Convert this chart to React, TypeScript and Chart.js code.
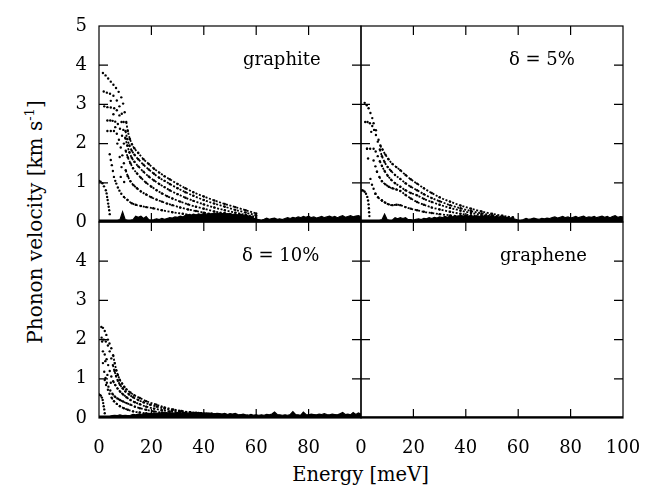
import React, { useEffect, useRef } from 'react';
import { Chart, ChartConfiguration, registerables } from 'chart.js';

Chart.register(...registerables);

type Pt = [number, number];

// ---- data: energy [meV], phonon velocity [km/s] ----

const groundEnergy = [
  0, 1, 2, 3, 4, 5, 6, 7, 8, 9, 10, 11, 12, 13, 14, 15, 16, 17, 18, 19,
  20, 21, 22, 23, 24, 25, 26, 27, 28, 29, 30, 31, 32, 33, 34, 35, 36, 37, 38, 39,
  40, 41, 42, 43, 44, 45, 46, 47, 48, 49, 50, 51, 52, 53, 54, 55, 56, 57, 58, 59,
  60, 61, 62, 63, 64, 65, 66, 67, 68, 69, 70, 71, 72, 73, 74, 75, 76, 77, 78, 79,
  80, 81, 82, 83, 84, 85, 86, 87, 88, 89, 90, 91, 92, 93, 94, 95, 96, 97, 98, 99, 100,
];

// graphite
const graphiteBranch1: Pt[] = [
  [1.5, 3.8], [2.5, 3.74], [3.5, 3.66], [4.5, 3.58], [5.5, 3.5], [6.5, 3.42], [7.5, 3.32], [8.5, 3.18],
  [9.2, 3.02], [9.8, 2.8], [10.4, 2.55], [11, 2.32], [11.8, 2.12], [12.6, 1.98], [13.5, 1.88], [15, 1.76],
  [17, 1.6], [19, 1.48], [21, 1.36], [23, 1.26], [25, 1.17], [27, 1.09], [30, 0.97], [33, 0.86],
  [36, 0.76], [40, 0.65], [44, 0.55], [48, 0.46], [52, 0.38], [56, 0.3], [60, 0.22],
];
const graphiteBranch2: Pt[] = [
  [1.8, 3.33], [3, 3.3], [4.2, 3.27], [5.5, 3.22], [6.8, 3.1], [7.8, 2.95], [8.7, 2.76], [9.4, 2.55],
  [10.1, 2.32], [10.8, 2.12], [11.6, 1.95], [12.5, 1.82], [13.5, 1.72], [15, 1.6], [17, 1.46], [19, 1.34],
  [21, 1.23], [23, 1.13], [25, 1.05], [27, 0.97], [30, 0.86], [33, 0.76], [36, 0.67], [40, 0.56],
  [44, 0.47], [48, 0.39], [52, 0.31], [56, 0.24], [60, 0.17],
];
const graphiteBranch3: Pt[] = [
  [2, 2.95], [3.2, 2.93], [4.5, 2.92], [5.8, 2.9], [6.8, 2.85], [7.8, 2.72], [8.6, 2.55], [9.3, 2.35],
  [10, 2.15], [10.8, 1.95], [11.6, 1.78], [12.5, 1.64], [13.5, 1.54], [15, 1.42], [17, 1.28], [19, 1.16],
  [21, 1.06], [23, 0.97], [25, 0.89], [27, 0.81], [30, 0.71], [33, 0.62], [36, 0.54], [40, 0.45],
  [44, 0.37], [48, 0.3], [52, 0.24], [56, 0.18], [60, 0.13],
];
const graphiteBranch4: Pt[] = [
  [3.2, 2.59], [4.3, 2.59], [5.2, 2.58], [6.2, 2.56], [7.2, 2.5], [8, 2.38], [8.8, 2.2], [9.5, 2.0],
  [10.2, 1.82], [11, 1.65], [12, 1.5], [13, 1.37], [14.5, 1.24], [16, 1.13], [18, 1.0], [20, 0.9],
  [22, 0.81], [24, 0.73], [26, 0.66], [28, 0.6], [31, 0.52], [34, 0.45], [37, 0.39], [40, 0.34],
  [44, 0.27], [48, 0.22], [52, 0.17], [56, 0.13], [60, 0.09],
];
const graphiteBranch5: Pt[] = [
  [3.2, 2.32], [4.5, 2.32], [5.7, 2.32], [6.8, 2.25], [7.6, 2.1], [8.3, 1.9], [8.9, 1.7], [9.5, 1.5],
  [10.2, 1.32], [11, 1.17], [12, 1.04], [13.2, 0.94], [14.5, 0.86], [16, 0.78], [18, 0.7], [20, 0.63],
  [22, 0.57], [24, 0.52], [26, 0.47], [28, 0.43], [31, 0.37], [34, 0.32], [37, 0.28], [40, 0.24],
  [44, 0.19], [48, 0.15], [52, 0.11], [56, 0.08],
];
const graphiteBranch6: Pt[] = [
  [4.1, 1.73], [4.5, 1.58], [4.9, 1.45], [5.3, 1.3], [5.7, 1.15], [6.2, 1.05], [6.6, 0.98], [7.2, 0.88],
  [7.8, 0.8], [8.5, 0.72], [9.5, 0.64], [10.9, 0.56], [12.5, 0.48], [14, 0.44], [16, 0.41], [18, 0.38],
  [20.7, 0.35], [24, 0.3], [28, 0.25], [32, 0.21], [36, 0.17], [40, 0.14], [46, 0.1], [52, 0.07], [58, 0.05],
];
const graphiteSmall: Pt[] = [
  [0, 1.05], [0.6, 1.03], [1.3, 0.99], [1.9, 0.91], [2.6, 0.81], [2.9, 0.73], [3.1, 0.64], [3.3, 0.56],
  [3.5, 0.47], [3.7, 0.39], [3.9, 0.3], [4.1, 0.2],
];
const graphiteLoose: Pt[] = [
  [4.5, 3.09], [5.5, 2.75], [6.2, 2.42], [7, 2.0], [7.9, 1.66], [8.6, 1.4], [8.3, 1.15], [9.6, 1.02],
];
const graphiteGround = [
  0.05, 0.05, 0.05, 0.05, 0.05, 0.05, 0.05, 0.05, 0.06, 0.26,
  0.06, 0.05, 0.05, 0.06, 0.15, 0.12, 0.15, 0.09, 0.14, 0.06,
  0.05, 0.06, 0.08, 0.06, 0.09, 0.07, 0.09, 0.11, 0.1, 0.13,
  0.12, 0.15, 0.13, 0.17, 0.19, 0.17, 0.2, 0.18, 0.21, 0.19,
  0.22, 0.2, 0.22, 0.2, 0.23, 0.21, 0.23, 0.21, 0.24, 0.2,
  0.22, 0.19, 0.21, 0.18, 0.2, 0.17, 0.18, 0.15, 0.15, 0.1,
  0.07, 0.06, 0.05, 0.07, 0.1, 0.07, 0.09, 0.1, 0.07, 0.08,
  0.06, 0.09, 0.11, 0.09, 0.12, 0.1, 0.13, 0.11, 0.14, 0.12,
  0.15, 0.11, 0.13, 0.1, 0.12, 0.14, 0.11, 0.13, 0.15, 0.12,
  0.14, 0.11, 0.14, 0.16, 0.12, 0.14, 0.16, 0.13, 0.15, 0.16,
  0.14,
];

// delta = 5%
const delta5Branch1: Pt[] = [
  [1.4, 3.04], [2.2, 2.98], [2.9, 2.9], [3.6, 2.78], [4.3, 2.65], [4.8, 2.52], [5.7, 2.34], [6.7, 2.1],
  [7.4, 1.95], [8.2, 1.85], [9.3, 1.72], [10.5, 1.6], [12, 1.48], [13.5, 1.4], [15, 1.32], [17, 1.2],
  [19, 1.09], [21.4, 0.98], [24, 0.86], [27, 0.74], [30, 0.63], [34, 0.52], [38, 0.42], [42, 0.34],
  [46, 0.27], [50, 0.21], [54, 0.16], [58, 0.12],
];
const delta5Branch2: Pt[] = [
  [1.6, 2.55], [2.5, 2.55], [3.4, 2.52], [4.3, 2.45], [5, 2.35], [5.7, 2.22], [6.4, 2.05], [7.2, 1.85],
  [8, 1.68], [9, 1.53], [10.2, 1.4], [11.5, 1.3], [13, 1.2], [15, 1.1], [17, 0.99], [19, 0.9],
  [21.4, 0.81], [24, 0.71], [27, 0.61], [30, 0.53], [34, 0.43], [38, 0.35], [42, 0.28], [46, 0.22],
  [50, 0.17], [54, 0.13], [58, 0.09],
];
const delta5Branch3: Pt[] = [
  [2.3, 1.87], [3.5, 1.87], [4.8, 1.87], [5.6, 1.8], [6.4, 1.68], [7.2, 1.55], [8, 1.43], [9, 1.3],
  [10.2, 1.18], [11.5, 1.08], [13, 0.99], [15, 0.9], [17, 0.81], [19, 0.74], [21.4, 0.68], [24, 0.59],
  [27, 0.51], [30, 0.44], [34, 0.36], [38, 0.29], [42, 0.23], [46, 0.18], [50, 0.14], [54, 0.1],
];
const delta5Branch4: Pt[] = [
  [4.8, 1.57], [5.5, 1.42], [6.1, 1.28], [7, 1.15], [8, 1.04], [9.3, 0.96], [10.6, 0.9], [12, 0.86],
  [13.5, 0.83], [15, 0.79], [17, 0.69], [19, 0.6], [21.4, 0.51], [24, 0.44], [27, 0.37], [30, 0.32],
  [34, 0.26], [38, 0.21], [42, 0.17], [46, 0.13], [50, 0.1], [54, 0.07],
];
const delta5Branch5: Pt[] = [
  [3.6, 1.1], [4.2, 0.95], [4.8, 0.85], [5.5, 0.72], [6.5, 0.63], [8, 0.55], [9.3, 0.49], [10.6, 0.45],
  [12, 0.43], [13.5, 0.44], [15, 0.43], [17, 0.38], [19, 0.34], [21.4, 0.3], [24, 0.26], [27, 0.23],
  [30, 0.2], [34, 0.17], [38, 0.14], [42, 0.11], [46, 0.09], [50, 0.07],
];
const delta5Small: Pt[] = [
  [0, 0.8], [0.4, 0.81], [0.9, 0.8], [1.4, 0.77], [1.9, 0.72], [2.4, 0.64], [2.7, 0.55], [2.9, 0.45],
  [3, 0.35], [3.1, 0.25], [3.2, 0.15],
];
const delta5Loose: Pt[] = [
  [2.7, 1.62], [3.9, 2.3], [6.1, 1.28], [5.5, 0.72], [8, 0.55], [2.3, 1.87],
];
const delta5Ground = [
  0.05, 0.05, 0.05, 0.05, 0.05, 0.05, 0.05, 0.05, 0.06, 0.2,
  0.06, 0.05, 0.05, 0.11, 0.08, 0.11, 0.09, 0.11, 0.06, 0.06,
  0.05, 0.07, 0.08, 0.06, 0.09, 0.08, 0.11, 0.09, 0.12, 0.1,
  0.13, 0.11, 0.14, 0.12, 0.15, 0.13, 0.16, 0.14, 0.17, 0.15,
  0.17, 0.15, 0.16, 0.14, 0.16, 0.14, 0.16, 0.15, 0.16, 0.13,
  0.15, 0.13, 0.14, 0.12, 0.13, 0.11, 0.12, 0.1, 0.09, 0.07,
  0.05, 0.05, 0.06, 0.09, 0.07, 0.08, 0.1, 0.08, 0.07, 0.09,
  0.08, 0.1, 0.09, 0.11, 0.13, 0.1, 0.12, 0.14, 0.11, 0.13,
  0.1, 0.12, 0.14, 0.11, 0.13, 0.15, 0.11, 0.13, 0.12, 0.14,
  0.11, 0.13, 0.15, 0.12, 0.14, 0.11, 0.14, 0.16, 0.12, 0.14,
  0.13,
];

// delta = 10%
const delta10Branch1: Pt[] = [
  [0.9, 2.32], [1.5, 2.3], [2.2, 2.22], [2.8, 2.12], [3.4, 2.0], [4, 1.9], [4.7, 1.78], [5.4, 1.6],
  [6, 1.4], [6.6, 1.22], [7.2, 1.1], [7.9, 0.98], [8.8, 0.88], [9.7, 0.79], [10.5, 0.73], [12, 0.65],
  [13.5, 0.58], [15.6, 0.51], [18, 0.43], [21.9, 0.34], [25, 0.27], [28.3, 0.22], [31.5, 0.18],
  [34.7, 0.15], [38, 0.13], [42, 0.11], [46, 0.09], [50, 0.08], [55, 0.07], [60, 0.06],
];
const delta10Branch2: Pt[] = [
  [1, 2.05], [1.8, 2.0], [2.6, 1.95], [3.4, 1.85], [4.1, 1.7], [4.7, 1.52], [5.3, 1.35], [5.9, 1.2],
  [6.5, 1.07], [7.2, 0.95], [8, 0.85], [9, 0.76], [10, 0.68], [11.5, 0.6], [13, 0.53], [15, 0.46],
  [17, 0.4], [19.5, 0.34], [22, 0.29], [25, 0.24], [28, 0.2], [31, 0.17], [35, 0.14], [39, 0.11],
  [44, 0.09], [50, 0.07],
];
const delta10Branch3: Pt[] = [
  [1.5, 1.7], [2.2, 1.62], [2.9, 1.5], [3.5, 1.35], [4.1, 1.2], [4.7, 1.06], [5.4, 0.94], [6.2, 0.84],
  [7.1, 0.75], [8.1, 0.67], [9.2, 0.6], [10.5, 0.53], [12, 0.46], [13.7, 0.4], [15.6, 0.35], [18, 0.29],
  [21, 0.24], [24, 0.2], [27, 0.17], [31, 0.14], [35, 0.11], [40, 0.09], [45, 0.07],
];
const delta10Branch4: Pt[] = [
  [1.5, 1.4], [2, 1.18], [2.5, 1.02], [3, 0.9], [3.6, 0.8], [4.3, 0.7], [5.1, 0.62], [6, 0.55],
  [7, 0.5], [8, 0.46], [9.2, 0.42], [10.5, 0.38], [12, 0.34], [13.7, 0.29], [15.6, 0.25], [18, 0.21],
  [21, 0.17], [24, 0.14], [28, 0.11], [32, 0.09], [36, 0.07],
];
const delta10Branch5: Pt[] = [
  [2.2, 0.97], [2.7, 0.84], [3.4, 0.72], [4, 0.62], [4.8, 0.52], [5.7, 0.43], [6.8, 0.36], [8, 0.3],
  [9.5, 0.25], [11, 0.21], [13, 0.17], [15.5, 0.14], [18, 0.12], [21, 0.1], [25, 0.08],
];
const delta10Small: Pt[] = [
  [0, 0.6], [0.3, 0.59], [0.7, 0.57], [1.1, 0.52], [1.4, 0.46], [1.6, 0.38], [1.8, 0.3], [2, 0.22], [2.2, 0.12],
];
const delta10Loose: Pt[] = [
  [1.2, 1.95], [2.4, 1.45], [3.2, 1.1], [4.5, 0.9],
];
const delta10Ground = [
  0.05, 0.05, 0.05, 0.05, 0.05, 0.06, 0.07, 0.06, 0.08, 0.06,
  0.07, 0.06, 0.07, 0.09, 0.08, 0.1, 0.09, 0.11, 0.1, 0.12,
  0.11, 0.13, 0.12, 0.13, 0.12, 0.14, 0.13, 0.14, 0.12, 0.13,
  0.14, 0.12, 0.13, 0.15, 0.12, 0.14, 0.13, 0.15, 0.13, 0.14,
  0.12, 0.13, 0.11, 0.13, 0.1, 0.12, 0.11, 0.1, 0.12, 0.09,
  0.11, 0.1, 0.12, 0.09, 0.08, 0.1, 0.08, 0.07, 0.09, 0.07,
  0.08, 0.07, 0.08, 0.07, 0.09, 0.08, 0.1, 0.15, 0.09, 0.08,
  0.07, 0.08, 0.07, 0.09, 0.16, 0.09, 0.08, 0.07, 0.15, 0.09,
  0.08, 0.1, 0.09, 0.08, 0.1, 0.09, 0.11, 0.09, 0.08, 0.1,
  0.09, 0.08, 0.11, 0.14, 0.09, 0.1, 0.08, 0.14, 0.09, 0.13,
  0.1,
];

// graphene: every mode sits on zero
const grapheneEnergy = [0, 100];
const grapheneGround = [0.03, 0.03];

const energyTicks = [0, 20, 40, 60, 80, 100];
const velocityTicks = [0, 1, 2, 3, 4, 5];

// ---- layout ----
const PANEL_W = 262;
const PANEL_H = 196;
const AXIS_W = 50;
const AXIS_H = 44;
const PAD_T = 26;
const PAD_R = 40;
const CANVAS_W = AXIS_W + PANEL_W + PAD_R;
const CANVAS_H = PAD_T + PANEL_H + AXIS_H;
const TICK = 9;
const FONT = "'DejaVu Serif', serif";

Chart.defaults.font.family = FONT;
Chart.defaults.font.size = 18;
Chart.defaults.color = '#000';

const framePlugin = {
  id: 'panelFrame',
  afterDatasetsDraw(chart: Chart) {
    const { ctx, chartArea: a } = chart;
    const xs = chart.scales.x;
    const ys = chart.scales.y;
    ctx.save();
    ctx.strokeStyle = '#000';
    ctx.lineWidth = 1.2;
    ctx.strokeRect(a.left, a.top, a.right - a.left, a.bottom - a.top);
    ctx.beginPath();
    energyTicks.slice(1, -1).forEach((v) => {
      const px = xs.getPixelForValue(v);
      ctx.moveTo(px, a.top);
      ctx.lineTo(px, a.top + TICK);
      ctx.moveTo(px, a.bottom);
      ctx.lineTo(px, a.bottom - TICK);
    });
    velocityTicks.slice(1, -1).forEach((v) => {
      const py = ys.getPixelForValue(v);
      ctx.moveTo(a.left, py);
      ctx.lineTo(a.left + TICK, py);
      ctx.moveTo(a.right, py);
      ctx.lineTo(a.right - TICK, py);
    });
    ctx.stroke();
    ctx.restore();
  },
};

// steep low-energy part of every branch shows as separate dots, the tail as a dotted line
const branchDataset = (headEnd: number) => (pts: Pt[]) => ({
  type: 'line' as const,
  data: pts.map(([x, y]) => ({ x, y })),
  borderColor: '#000',
  backgroundColor: '#000',
  borderWidth: 1.8,
  borderDash: [2, 1.6],
  pointRadius: 1.2,
  pointBorderWidth: 0,
  cubicInterpolationMode: 'monotone' as const,
  fill: false,
  segment: {
    borderColor: (c: any) => (c.p1.parsed.x < headEnd ? 'rgba(0,0,0,0)' : undefined),
  },
});

const looseDataset = (pts: Pt[]) => ({
  type: 'scatter' as const,
  data: pts.map(([x, y]) => ({ x, y })),
  backgroundColor: '#000',
  borderWidth: 0,
  pointRadius: 1.2,
});

const groundDataset = (energy: number[], heights: number[]) => ({
  type: 'line' as const,
  data: heights.map((h, i) => ({ x: energy[i], y: h })),
  borderColor: '#000',
  backgroundColor: '#000',
  borderWidth: 1.2,
  pointRadius: 0,
  fill: 'origin' as const,
});

interface PanelProps {
  left: number;
  top: number;
  branches: Pt[][];
  headEnd: number;
  loose: Pt[];
  ground: { energy: number[]; heights: number[] };
  showY: boolean;
  hideTopY: boolean;
  showX: boolean;
  hideLastX: boolean;
}

const Panel: React.FC<PanelProps> = ({ left, top, branches, headEnd, loose, ground, showY, hideTopY, showX, hideLastX }) => {
  const canvasRef = useRef<HTMLCanvasElement>(null);
  const chartRef = useRef<Chart | null>(null);

  useEffect(() => {
    if (!canvasRef.current) return;
    const config: ChartConfiguration = {
      type: 'scatter',
      data: {
        datasets: [
          ...branches.map(branchDataset(headEnd)),
          looseDataset(loose),
          groundDataset(ground.energy, ground.heights),
        ] as any,
      },
      options: {
        responsive: false,
        animation: false,
        layout: { padding: { top: PAD_T, right: PAD_R, left: 0, bottom: 0 } },
        plugins: { legend: { display: false }, tooltip: { enabled: false } },
        scales: {
          x: {
            type: 'linear',
            min: 0,
            max: 100,
            afterBuildTicks: (s: any) => {
              s.ticks = energyTicks.map((value) => ({ value }));
            },
            ticks: {
              display: showX,
              autoSkip: false,
              maxRotation: 0,
              padding: 20,
              callback: (v: any) => (hideLastX && v === 100 ? '' : String(v)),
            },
            grid: { display: false, drawTicks: false },
            border: { display: false },
            afterFit: (s: any) => {
              s.height = AXIS_H;
            },
          },
          y: {
            type: 'linear',
            min: 0,
            max: 5,
            afterBuildTicks: (s: any) => {
              s.ticks = velocityTicks.map((value) => ({ value }));
            },
            ticks: {
              display: showY,
              padding: 12,
              callback: (v: any) => (hideTopY && v === 5 ? '' : String(v)),
            },
            grid: { display: false, drawTicks: false },
            border: { display: false },
            afterFit: (s: any) => {
              s.width = AXIS_W;
            },
          },
        },
      },
      plugins: [framePlugin],
    };
    chartRef.current = new Chart(canvasRef.current, config);
    return () => {
      chartRef.current?.destroy();
      chartRef.current = null;
    };
  }, []);

  return (
    <canvas
      ref={canvasRef}
      width={CANVAS_W}
      height={CANVAS_H}
      style={{ position: 'absolute', left: left - AXIS_W, top: top - PAD_T, width: CANVAS_W, height: CANVAS_H }}
    />
  );
};

const labelStyle: React.CSSProperties = {
  position: 'absolute',
  fontFamily: FONT,
  fontSize: 18,
  lineHeight: '18px',
  whiteSpace: 'nowrap',
  color: '#000',
};

export default function App() {
  return (
    <div style={{ position: 'absolute', left: 0, top: 0, width: 654, height: 491, background: '#fff', overflow: 'hidden' }}>
      <Panel
        left={99}
        top={26}
        branches={[graphiteBranch1, graphiteBranch2, graphiteBranch3, graphiteBranch4, graphiteBranch5, graphiteBranch6, graphiteSmall]}
        headEnd={10.5}
        loose={graphiteLoose}
        ground={{ energy: groundEnergy, heights: graphiteGround }}
        showY
        hideTopY={false}
        showX={false}
        hideLastX
      />
      <Panel
        left={361}
        top={26}
        branches={[delta5Branch1, delta5Branch2, delta5Branch3, delta5Branch4, delta5Branch5, delta5Small]}
        headEnd={7.5}
        loose={delta5Loose}
        ground={{ energy: groundEnergy, heights: delta5Ground }}
        showY={false}
        hideTopY
        showX={false}
        hideLastX={false}
      />
      <Panel
        left={99}
        top={222}
        branches={[delta10Branch1, delta10Branch2, delta10Branch3, delta10Branch4, delta10Branch5, delta10Small]}
        headEnd={5.5}
        loose={delta10Loose}
        ground={{ energy: groundEnergy, heights: delta10Ground }}
        showY
        hideTopY
        showX
        hideLastX
      />
      <Panel
        left={361}
        top={222}
        branches={[]}
        headEnd={0}
        loose={[]}
        ground={{ energy: grapheneEnergy, heights: grapheneGround }}
        showY={false}
        hideTopY
        showX
        hideLastX={false}
      />

      <div style={{ ...labelStyle, left: 243, top: 50 }}>graphite</div>
      <div style={{ ...labelStyle, left: 509, top: 50 }}>δ = 5%</div>
      <div style={{ ...labelStyle, left: 242, top: 246 }}>δ = 10%</div>
      <div style={{ ...labelStyle, left: 500, top: 246 }}>graphene</div>

      <div style={{ ...labelStyle, fontSize: 19.5, lineHeight: '20px', left: 240, width: 241, top: 465, textAlign: 'center' }}>
        Energy [meV]
      </div>
      <div
        style={{
          ...labelStyle,
          fontSize: 20,
          lineHeight: '20px',
          left: 35 - 160,
          top: 222 - 10,
          width: 320,
          height: 20,
          textAlign: 'center',
          transform: 'rotate(-90deg)',
        }}
      >
        Phonon velocity [km s<sup style={{ fontSize: 13, lineHeight: 0, verticalAlign: 8 }}>-1</sup>]
      </div>
    </div>
  );
}
